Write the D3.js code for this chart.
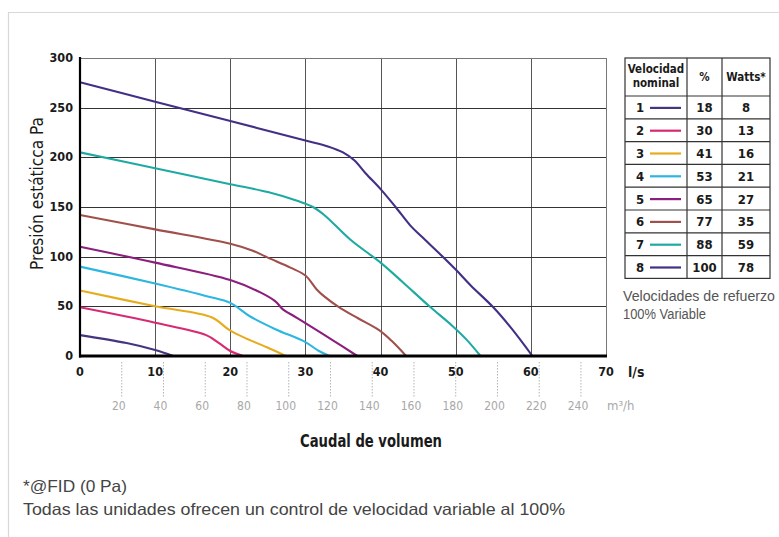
<!DOCTYPE html>
<html><head><meta charset="utf-8">
<script src="https://cdn.jsdelivr.net/npm/d3@7"></script>
<style>
html,body{margin:0;padding:0;background:#fff;}
svg{display:block;}
.cond{font-family:"Liberation Sans Narrow","DejaVu Sans Condensed","Arial Narrow",sans-serif;}
.reg{font-family:"Liberation Sans",Arial,Helvetica,sans-serif;}
</style></head>
<body>
<svg id="c" width="779" height="537"></svg>
<script>
// ---- data ----
const speeds = [1,2,3,4,5,6,7,8];
const percents = [18,30,41,53,65,77,88,100];
const watts = [8,13,16,21,27,35,59,78];
const colors = ["#45357f","#d82a74","#e6ac1e","#2cb6e0","#8c1f7e","#a0504c","#1eaaa2","#432f86"];
const xTicksLs = [0,10,20,30,40,50,60,70];
const yTicks = [0,50,100,150,200,250,300];
const m3hTicks = [20,40,60,80,100,120,140,160,180,200,220,240];
const s1 = [[0,21],[6.2,13],[10,6],[12.4,0]];
const s2 = [[0,49],[10,33.5],[16.8,21],[18.5,13],[20,5],[21.7,0]];
const s3 = [[0,66],[10,50],[17.5,39],[19.9,26],[22,18],[24.8,9],[27.4,0]];
const s4 = [[0,90],[10,73],[17,60],[20,53.5],[22.6,40],[26,27],[30,14],[31.8,5],[33.2,0]];
const s5 = [[0,110],[10,94],[20,76.5],[24,64],[26,55],[27,47],[28.5,40],[30,33],[33.6,16],[36.9,0]];
const s6 = [[0,142],[10,127.5],[20,113],[23,106],[25,99],[28,89],[30,81],[31.5,67],[32.5,60],[34.5,49],[37,38],[39.8,26],[41.5,15],[43.4,0]];
const s7 = [[0,205],[10,189],[20,173],[25,165],[29,156],[31,150],[32.5,142],[36,117],[40,94],[43,74],[46.5,50],[49.6,30],[51.5,16],[53.3,0]];
const s8 = [[0,275.5],[10,256],[20,236.5],[30,217],[33,211],[35,205],[36.5,197],[38,184],[40,168],[42,150],[44,131],[45.5,120],[48,102],[50,87],[52,71],[55,49],[57.5,27],[60.2,0]];
const series = [s1,s2,s3,s4,s5,s6,s7,s8];

// ---- layout ----
const svg = d3.select("#c");
const x = d3.scaleLinear().domain([0,70]).range([80,606]);
const y = d3.scaleLinear().domain([0,300]).range([356,58]);

// frame
svg.append("path").attr("d","M8.5,537 L8.5,12.5 L779,12.5").attr("fill","none").attr("stroke","#d8d8d8").attr("stroke-width",1.2);

// grid
const g = svg.append("g");
g.selectAll(".vg").data(xTicksLs.slice(1)).join("line")
  .attr("x1",d=>Math.round(x(d))+0.5).attr("x2",d=>Math.round(x(d))+0.5)
  .attr("y1",y(300)).attr("y2",y(0)).attr("stroke",d=>d===70?"#777":"#555").attr("stroke-width",1);
g.selectAll(".hg").data(yTicks.slice(1)).join("line")
  .attr("x1",x(0)).attr("x2",x(70))
  .attr("y1",d=>Math.round(y(d))+0.5).attr("y2",d=>Math.round(y(d))+0.5)
  .attr("stroke",d=>d===300?"#777":"#333").attr("stroke-width",1);

// curves
const line = d3.line().x(d=>x(d[0])).y(d=>y(d[1])).curve(d3.curveCatmullRom.alpha(0.5));
svg.append("g").selectAll("path").data(series).join("path")
  .attr("d",line).attr("fill","none").attr("stroke",(d,i)=>colors[i]).attr("stroke-width",2.1)
  .attr("stroke-linejoin","round");

// axes lines
svg.append("line").attr("x1",x(0)).attr("x2",x(0)).attr("y1",y(300)-1).attr("y2",y(0)+1.5).attr("stroke","#000").attr("stroke-width",2.2);
svg.append("line").attr("x1",x(0)-1).attr("x2",x(70)+1).attr("y1",y(0)).attr("y2",y(0)).attr("stroke","#000").attr("stroke-width",3);

// y tick labels
svg.append("g").selectAll("text").data(yTicks).join("text").attr("class","cond")
  .attr("x",73).attr("y",d=>y(d)+4).attr("text-anchor","end").attr("font-size",12.5).attr("font-weight","bold").attr("fill","#1a1a1a").text(d=>d);
// x tick labels
svg.append("g").selectAll("text").data(xTicksLs).join("text").attr("class","cond")
  .attr("x",d=>x(d)).attr("y",376).attr("text-anchor","middle").attr("font-size",12.5).attr("font-weight","bold").attr("fill","#1a1a1a").text(d=>d);
svg.append("text").attr("class","cond").attr("x",628).attr("y",377).attr("font-size",14).attr("font-weight","bold").attr("fill","#1a1a1a").text("l/s");

// m3/h secondary axis
const xm = d3.scaleLinear().domain([0,252]).range([x(0),x(70)]);
svg.append("g").selectAll("line").data(m3hTicks).join("line")
  .attr("x1",d=>xm(d)).attr("x2",d=>xm(d)).attr("y1",362).attr("y2",398)
  .attr("stroke","#b5b5b5").attr("stroke-width",1).attr("stroke-dasharray","1.5,1.5");
svg.append("g").selectAll("text").data(m3hTicks).join("text").attr("class","cond")
  .attr("x",d=>xm(d)-3).attr("y",410).attr("text-anchor","middle").attr("font-size",12).attr("fill","#a8a8a8").text(d=>d);
svg.append("text").attr("class","cond").attr("x",607).attr("y",410).attr("font-size",13).attr("fill","#a8a8a8").text("m³/h");

// titles
svg.append("text").attr("class","cond").attr("x",300).attr("y",447)
  .attr("font-size",17).attr("font-weight","bold").attr("fill","#1a1a1a")
  .attr("textLength",142).attr("lengthAdjust","spacingAndGlyphs").text("Caudal de volumen");
svg.append("text").attr("class","cond").attr("transform","translate(43,270) rotate(-90)")
  .attr("font-size",18).attr("fill","#1a1a1a")
  .attr("textLength",153).attr("lengthAdjust","spacingAndGlyphs").text("Presión estáticca Pa");

// table
const tx = [625,687,722,770];
const tTop = 58, headH = 38, rowH = 22.8;
const tb = svg.append("g");
const rowY = i => tTop + headH + i*rowH;
tb.append("rect").attr("x",tx[0]).attr("y",tTop).attr("width",tx[3]-tx[0]).attr("height",headH+8*rowH)
  .attr("fill","none").attr("stroke","#333").attr("stroke-width",1.2);
tb.selectAll(".col").data([tx[1],tx[2]]).join("line").attr("x1",d=>d).attr("x2",d=>d)
  .attr("y1",tTop).attr("y2",rowY(8)).attr("stroke","#333").attr("stroke-width",1.2);
tb.selectAll(".row").data(d3.range(8)).join("line").attr("x1",tx[0]).attr("x2",tx[3])
  .attr("y1",d=>rowY(d)).attr("y2",d=>rowY(d)).attr("stroke","#333").attr("stroke-width",1.2);
// header
const hdr = tb.append("g").attr("class","cond").attr("font-weight","bold").attr("fill","#1a1a1a").attr("font-size",11.5).attr("text-anchor","middle");
hdr.append("text").attr("x",(tx[0]+tx[1])/2).attr("y",tTop+15).text("Velocidad");
hdr.append("text").attr("x",(tx[0]+tx[1])/2).attr("y",tTop+29).text("nominal");
hdr.append("text").attr("x",(tx[1]+tx[2])/2).attr("y",tTop+23).text("%");
hdr.append("text").attr("x",(tx[2]+tx[3])/2).attr("y",tTop+23).text("Watts*");
// rows
const rows = tb.append("g").selectAll("g").data(speeds).join("g");
rows.append("text").attr("class","cond").attr("x",640).attr("y",(d,i)=>rowY(i)+rowH/2+5)
  .attr("text-anchor","middle").attr("font-size",13).attr("font-weight","bold").attr("fill","#1a1a1a").text(d=>d);
rows.append("line").attr("x1",650).attr("x2",681).attr("y1",(d,i)=>rowY(i)+rowH/2+0.5).attr("y2",(d,i)=>rowY(i)+rowH/2+0.5)
  .attr("stroke",(d,i)=>colors[i]).attr("stroke-width",2.2);
rows.append("text").attr("class","cond").attr("x",(tx[1]+tx[2])/2).attr("y",(d,i)=>rowY(i)+rowH/2+5)
  .attr("text-anchor","middle").attr("font-size",13).attr("font-weight","bold").attr("fill","#1a1a1a").text((d,i)=>percents[i]);
rows.append("text").attr("class","cond").attr("x",(tx[2]+tx[3])/2).attr("y",(d,i)=>rowY(i)+rowH/2+5)
  .attr("text-anchor","middle").attr("font-size",13).attr("font-weight","bold").attr("fill","#1a1a1a").text((d,i)=>watts[i]);

svg.append("text").attr("class","reg").attr("x",623).attr("y",301).attr("font-size",14).attr("fill","#555")
  .attr("textLength",152).attr("lengthAdjust","spacingAndGlyphs").text("Velocidades de refuerzo");
svg.append("text").attr("class","reg").attr("x",623).attr("y",319).attr("font-size",14).attr("fill","#555")
  .attr("textLength",83).attr("lengthAdjust","spacingAndGlyphs").text("100% Variable");

// footnotes
svg.append("text").attr("class","reg").attr("x",23).attr("y",492).attr("font-size",16.5).attr("fill","#444")
  .attr("textLength",104).attr("lengthAdjust","spacingAndGlyphs").text("*@FID (0 Pa)");
svg.append("text").attr("class","reg").attr("x",23).attr("y",515).attr("font-size",16.5).attr("fill","#444")
  .attr("textLength",542).attr("lengthAdjust","spacingAndGlyphs").text("Todas las unidades ofrecen un control de velocidad variable al 100%");
</script>
</body></html>
